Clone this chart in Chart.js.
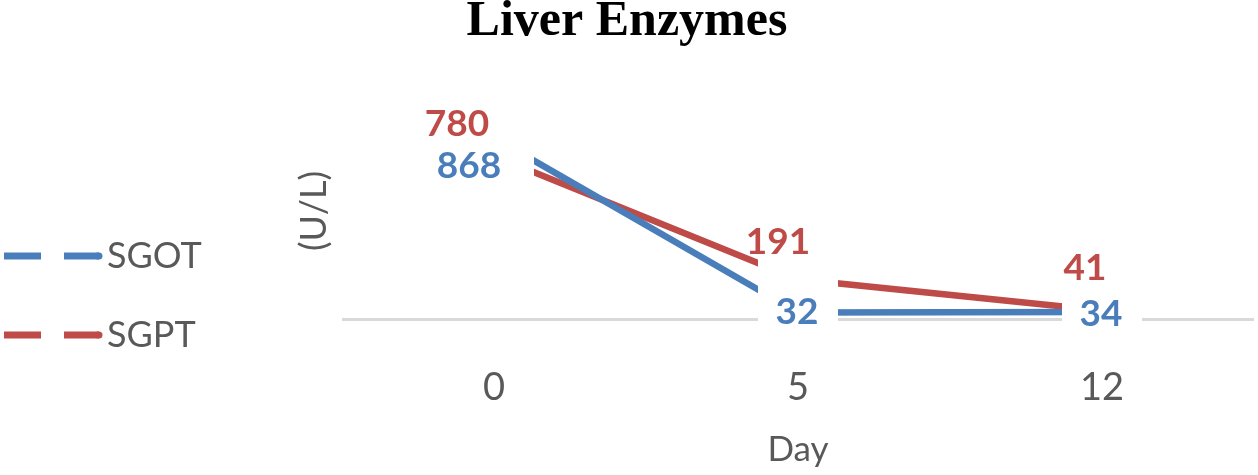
<!DOCTYPE html>
<html>
<head>
<meta charset="utf-8">
<script src="https://cdn.jsdelivr.net/npm/chart.js@4.4.1/dist/chart.umd.min.js"></script>
<style>
  html, body { margin: 0; padding: 0; background: #ffffff; }
  #wrap { width: 1258px; height: 475px; }
</style>
</head>
<body>
<div id="wrap"><canvas id="c" width="1258" height="475"></canvas></div>
<script>
// ---- data ----
const days = ['0', '5', '12'];
const sgot = [868, 32, 34];
const sgpt = [780, 191, 41];
const seriesNames = ['SGOT', 'SGPT'];
const chartTitle = 'Liver Enzymes';
const yTitle = '(U/L)';
const xTitle = 'Day';

// ---- styles ----
const BLUE = '#4A7EBB';
const RED = '#BE4B48';
const GREY = '#595959';
const SANS = 'Lato, "Open Sans", sans-serif';

// label offsets (px) relative to each point, per dataset
const labelOffsets = [
  [[-25, 28], [-1, 0], [-1, 2]],
  [[-37, -32], [-20, -37], [-17, -43]]
];
const MASK_HALF = 40; // half size of the white square marker behind each point

const labelPlugin = {
  id: 'valueLabels',
  afterDatasetsDraw(chart) {
    const ctx = chart.ctx;
    ctx.save();
    // white square markers (mask line ends / axis line around points)
    ctx.fillStyle = '#ffffff';
    chart.data.datasets.forEach((ds, di) => {
      chart.getDatasetMeta(di).data.forEach((pt) => {
        ctx.fillRect(pt.x - MASK_HALF, pt.y - MASK_HALF, 2 * MASK_HALF, 2 * MASK_HALF);
      });
    });
    // value labels
    ctx.font = 'bold 37px ' + SANS;
    ctx.textAlign = 'center';
    ctx.textBaseline = 'middle';
    chart.data.datasets.forEach((ds, di) => {
      const meta = chart.getDatasetMeta(di);
      ctx.fillStyle = ds.borderColor;
      meta.data.forEach((pt, i) => {
        const off = labelOffsets[di][i];
        ctx.fillText(String(ds.data[i]), pt.x + off[0], pt.y + off[1]);
      });
    });
    ctx.restore();
  }
};

const sideTextPlugin = {
  id: 'sideText',
  afterDraw(chart) {
    const ctx = chart.ctx;
    ctx.save();
    // legend
    const rows = [256, 335];
    chart.data.datasets.forEach((ds, di) => {
      const y = rows[di];
      ctx.strokeStyle = ds.borderColor;
      ctx.lineWidth = 7;
      ctx.lineCap = 'butt';
      ctx.beginPath();
      ctx.moveTo(4, y); ctx.lineTo(41, y);
      ctx.moveTo(64, y); ctx.lineTo(99, y);
      ctx.stroke();
      ctx.lineCap = 'round';
      ctx.beginPath();
      ctx.moveTo(98, y); ctx.lineTo(99, y);
      ctx.stroke();
      ctx.fillStyle = GREY;
      ctx.font = '36px ' + SANS;
      ctx.textAlign = 'left';
      ctx.textBaseline = 'middle';
      ctx.fillText(ds.label, 107, y);
    });
    // y axis title
    ctx.translate(314, 211);
    ctx.rotate(-Math.PI / 2);
    ctx.fillStyle = GREY;
    ctx.font = '36px ' + SANS;
    ctx.textAlign = 'center';
    ctx.textBaseline = 'middle';
    ctx.fillText(yTitle, 0, 0);
    ctx.restore();
  }
};

new Chart(document.getElementById('c'), {
  type: 'line',
  data: {
    labels: days,
    datasets: [
      {
        label: seriesNames[0], data: sgot,
        borderColor: BLUE, borderWidth: 6.5, tension: 0,
        pointRadius: 0, pointHoverRadius: 0
      },
      {
        label: seriesNames[1], data: sgpt,
        borderColor: RED, borderWidth: 6.5, tension: 0,
        pointRadius: 0, pointHoverRadius: 0
      }
    ]
  },
  options: {
    responsive: false,
    animation: false,
    devicePixelRatio: 1,
    events: [],
    layout: { padding: { left: 0, right: 4, top: 0, bottom: 0 } },
    plugins: {
      legend: { display: false },
      tooltip: { enabled: false },
      title: {
        display: true, text: chartTitle, color: '#000000',
        font: { family: '"Liberation Serif", "Times New Roman", serif', size: 50, weight: 'bold', lineHeight: 0.88 },
        padding: { top: 0, bottom: 66 }
      }
    },
    scales: {
      x: {
        offset: true,
        grid: { display: false },
        border: { display: false },
        ticks: { color: GREY, font: { family: SANS, size: 38, lineHeight: 1 }, padding: 0, maxRotation: 0 },
        title: { display: true, text: xTitle, color: GREY, font: { family: SANS, size: 35 }, padding: { top: 0, bottom: 4 } },
        afterFit(scale) { scale.height = 114; }
      },
      y: {
        min: -200, max: 1000,
        ticks: { display: false, stepSize: 200 },
        border: { display: false },
        grid: {
          drawTicks: false,
          lineWidth: 3,
          color: (c) => (c.tick && c.tick.value === 0 ? '#d9d9d9' : 'rgba(0,0,0,0)')
        },
        afterFit(scale) { scale.width = 342; }
      }
    }
  },
  plugins: [labelPlugin, sideTextPlugin]
});
</script>
</body>
</html>
